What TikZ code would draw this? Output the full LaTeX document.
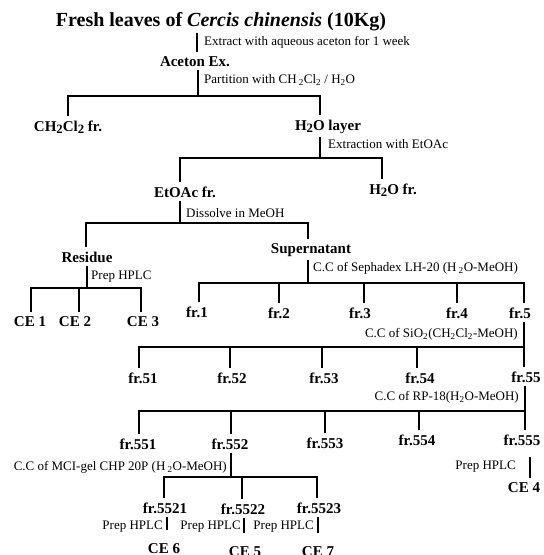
\documentclass[tikz,border=0pt]{standalone}
\usepackage{fontspec}
\setmainfont{Liberation Serif}
\usepackage{tikz}
\usetikzlibrary{positioning, calc}
\newcommand{\dn}[1]{\raisebox{-0.35ex}{\scalebox{0.85}{#1}}}
\tikzset{
	head/.style={
		font=\fontsize{20}{24}\selectfont\bfseries,
		anchor=base,
		inner sep=2pt
	},
	frac/.style={
		font=\fontsize{15}{18}\selectfont\bfseries,
		anchor=base,
		inner xsep=1pt,
		inner ysep=4pt
	},
	note/.style={
		font=\fontsize{13}{15}\selectfont,
		inner sep=1pt
	},
	link/.style={
		line width=1.2pt,
		black
	}
}
\begin{document}
\begin{tikzpicture}[x=1pt, y=-1pt]
		\fill[white] (0,0) rectangle (544,555);
		\useasboundingbox (0,0) rectangle (544,555);

		% fractions
		\node[head] (leaves) at (221,26) {Fresh leaves of \textit{Cercis chinensis} (10Kg)};
		\node[frac] (aceton) at (195,66) {Aceton Ex.};
		\node[frac] (ch2cl2) at (68,131) {CH\dn{2}Cl\dn{2} fr.};
		\node[frac] (h2olayer) at (328,130) {H\dn{2}O layer};
		\node[frac] (etoac) at (185,197) {EtOAc fr.};
		\node[frac] (h2ofr) at (393,194) {H\dn{2}O fr.};
		\node[frac] (residue) at (87,262) {Residue};
		\node[frac] (supern) at (311,253) {Supernatant};
		\node[frac] (ce1) at (30,326) {CE 1};
		\node[frac] (ce2) at (75,326) {CE 2};
		\node[frac] (ce3) at (143,326) {CE 3};
		\node[frac] (fr1) at (197,317) {fr.1};
		\node[frac] (fr2) at (279,318) {fr.2};
		\node[frac] (fr3) at (360,318) {fr.3};
		\node[frac] (fr4) at (457,318) {fr.4};
		\node[frac] (fr5) at (520,318) {fr.5};
		\node[frac] (fr51) at (143,383) {fr.51};
		\node[frac] (fr52) at (232,383) {fr.52};
		\node[frac] (fr53) at (324,383) {fr.53};
		\node[frac] (fr54) at (420,383) {fr.54};
		\node[frac] (fr55) at (526,382) {fr.55};
		\node[frac] (fr551) at (138,449) {fr.551};
		\node[frac] (fr552) at (230,449) {fr.552};
		\node[frac] (fr553) at (325,448) {fr.553};
		\node[frac] (fr554) at (417,445) {fr.554};
		\node[frac] (fr555) at (522,445) {fr.555};
		\node[frac] (ce4) at (524,492) {CE 4};
		\node[frac] (fr5521) at (165,513) {fr.5521};
		\node[frac] (fr5522) at (243,514) {fr.5522};
		\node[frac] (fr5523) at (319,513) {fr.5523};
		\node[frac] (ce6) at (164,553) {CE 6};
		\node[frac] (ce5) at (245,556) {CE 5};
		\node[frac] (ce7) at (318,556) {CE 7};

		% bar junctions
		\coordinate (sA) at (198,96);
		\coordinate (sB) at (320,158);
		\coordinate (sC) at (180,223);
		\coordinate (sD) at (87,288);
		\coordinate (sE) at (308,283);
		\coordinate (sF) at (524,347);
		\coordinate (sG) at (525,411);
		\coordinate (sH) at (231,477);

		% connections
		\begin{scope}[link]
		\draw (leaves.south -| 197,0) -- (aceton.north -| 197,0);

		\draw (aceton.south -| sA) -- (sA);
		\foreach \c/\x in {ch2cl2/68, h2olayer/320} {
			\draw (\c.north -| \x,0) |- (sA);
		}

		\draw (h2olayer.south -| sB) -- (sB);
		\foreach \c/\x in {etoac/180, h2ofr/382} {
			\draw (\c.north -| \x,0) |- (sB);
		}

		\draw (etoac.south -| sC) -- (sC);
		\foreach \c/\x in {residue/86, supern/308} {
			\draw (\c.north -| \x,0) |- (sC);
		}

		% residue -> CE
		\draw (residue.south -| sD) -- (sD);
		\foreach \c/\x in {ce1/31, ce2/79, ce3/141} {
			\draw (\c.north -| \x,0) |- (sD);
		}

		% supernatant -> fr.1 ... fr.5
		\draw (supern.south -| sE) -- (sE);
		\foreach \c/\x in {fr1/199, fr2/279, fr3/364, fr4/457, fr5/524} {
			\draw (\c.north -| \x,0) |- (sE);
		}

		\draw (fr5.south -| sF) -- (sF);
		\foreach \c/\x in {fr51/139, fr52/230, fr53/322, fr54/417, fr55/524} {
			\draw (\c.north -| \x,0) |- (sF);
		}

		\draw (fr55.south -| sG) -- (sG);
		\foreach \c/\x in {fr551/139, fr552/231, fr553/325, fr554/419, fr555/525} {
			\draw (\c.north -| \x,0) |- (sG);
		}

		\draw (fr552.south -| sH) -- (sH);
		\foreach \c/\x in {fr5521/164, fr5522/242, fr5523/317} {
			\draw (\c.north -| \x,0) |- (sH);
		}

		% prep HPLC
		\draw[shorten <=8pt] (fr555.south -| 530,0) -- (ce4.north -| 530,0);
		\foreach \a/\b/\x in {fr5521/ce6/167, fr5522/ce5/244, fr5523/ce7/318} {
			\draw[shorten >=9pt] (\a.south -| \x,0) -- (\b.north -| \x,0);
		}
		\end{scope}

		% step descriptions
		\begin{scope}[every node/.style={note}]
		\node[anchor=west] (n1) at (203,42) {Extract with aqueous aceton for 1 week};
		\node[anchor=west] (n2) at (203,80) {Partition with CH\,\textsubscript{2}Cl\textsubscript{2} / H\textsubscript{2}O};
		\node[anchor=west] (n3) at (327,144) {Extraction with EtOAc};
		\node[anchor=west] (n4) at (185,213) {Dissolve in MeOH};
		\node[anchor=west] (n5) at (90,277) {Prep HPLC};
		\node[anchor=west] (n6) at (312,268) {C.C of Sephadex LH-20 (H\,\textsubscript{2}O-MeOH)};
		\node[anchor=east] (n7) at (519,334) {C.C of SiO\textsubscript{2}(CH\textsubscript{2}Cl\textsubscript{2}-MeOH)};
		\node[anchor=east] (n8) at (520,397) {C.C of RP-18(H\textsubscript{2}O-MeOH)};
		\node[anchor=east] (n9) at (228,467) {C.C of MCI-gel CHP 20P (H\,\textsubscript{2}O-MeOH)};
		\node[anchor=east] (n10) at (517,467) {Prep HPLC};
		\node[anchor=east] (n11) at (164,527) {Prep HPLC};
		\node[anchor=east] (n12) at (242,527) {Prep HPLC};
		\node[anchor=east] (n13) at (315,527) {Prep HPLC};
		\end{scope}
\end{tikzpicture}
\end{document}
